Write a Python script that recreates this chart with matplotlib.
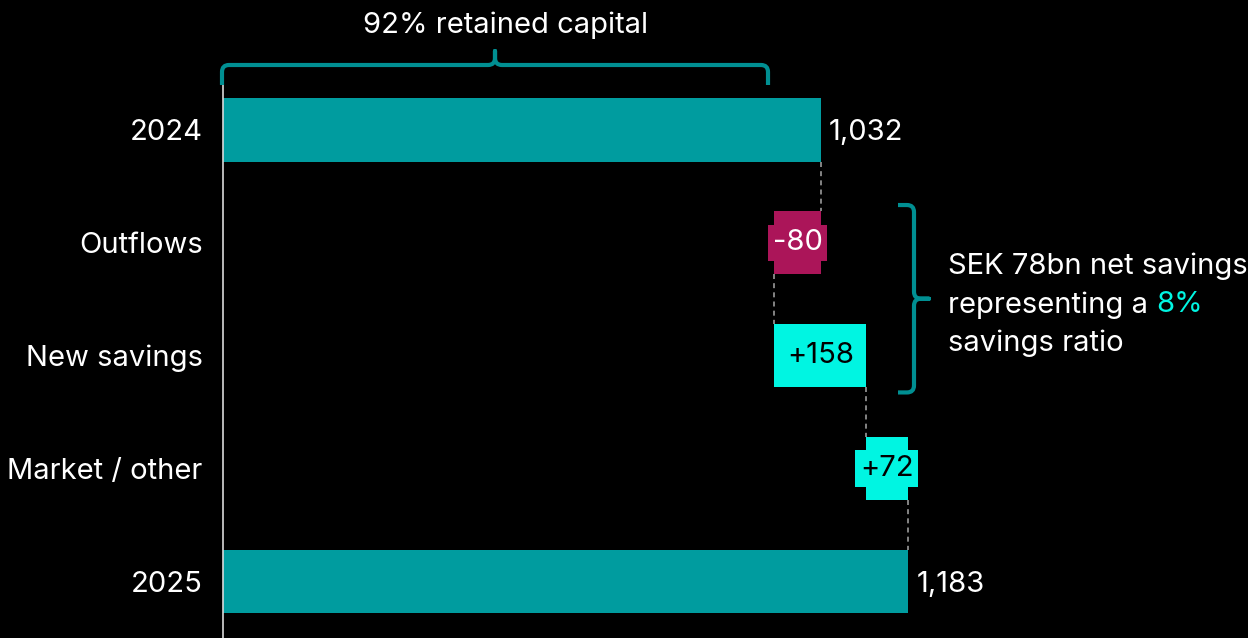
import matplotlib
matplotlib.use("Agg")
import matplotlib.pyplot as plt
from matplotlib.path import Path
from matplotlib.patches import PathPatch
from matplotlib.transforms import IdentityTransform, offset_copy

# --- data -------------------------------------------------------------
categories = ["2024", "Outflows", "New savings", "Market / other", "2025"]
start_total = 1032
changes = [-80, 158, 72]
end_total = 1183
change_labels = ["-80", "+158", "+72"]
retained_share = 0.92
net_savings_text = ["SEK 78bn net savings", "representing a ", "8%", "savings ratio"]

# --- style ------------------------------------------------------------
BG = "#000000"
TEAL = "#009c9f"
MAGENTA = "#ab1559"
CYAN = "#00f5e2"
BRACE = "#008f92"
GUIDE = "#9a9a9a"
FONT = "Inter"
FS = 21

plt.rcParams["font.family"] = [FONT, "DejaVu Sans"]

W, H, DPI = 1248, 638, 100
fig = plt.figure(figsize=(W / DPI, H / DPI), dpi=DPI, facecolor=BG)
ax = fig.add_axes([223 / W, 0.0, 1 - 223 / W, (H - 73.5) / H])
ax.set_facecolor(BG)
ax.set_xlim(0, (W - 223) / 0.5793)
ax.set_ylim(len(categories) - 0.5, -0.5)

bar_h = 0.56
ypos = list(range(len(categories)))

# totals
ax.barh(ypos[0], start_total, height=bar_h, color=TEAL, zorder=2)
ax.barh(ypos[-1], end_total, height=bar_h, color=TEAL, zorder=2)

# floating changes
running = start_total
level_ends = [start_total]
for i, (c, lab) in enumerate(zip(changes, change_labels), start=1):
    left = min(running, running + c)
    col = MAGENTA if c < 0 else CYAN
    ax.text(left + abs(c) / 2, ypos[i], lab, ha="center", va="center",
            fontsize=FS, color="white" if c < 0 else "black", zorder=4,
            bbox=dict(boxstyle="square,pad=0.16", fc=col, ec="none"))
    ax.barh(ypos[i], abs(c), left=left, height=bar_h, color=col, zorder=2)
    running += c
    level_ends.append(running)
level_ends.append(end_total)

# dashed connectors between consecutive bars
for i in range(len(categories) - 1):
    x = level_ends[i]
    ax.plot([x, x], [ypos[i] + bar_h / 2, ypos[i + 1] - bar_h / 2],
            color=GUIDE, lw=1.2, ls=(0, (3, 2.5)), zorder=1)

# value labels for totals, a few pixels right of the bar ends
off = offset_copy(ax.transData, fig=fig, x=8, y=0, units="dots")
ax.text(start_total, ypos[0], f"{start_total:,}", color="white", fontsize=FS,
        va="center_baseline", ha="left", transform=off)
ax.text(end_total, ypos[-1], f"{end_total:,}", color="white", fontsize=FS,
        va="center_baseline", ha="left", transform=off)

# axes cosmetics
ax.set_yticks(ypos)
ax.set_yticklabels(categories, fontsize=FS, color="white")
ax.tick_params(axis="y", length=0, pad=14.5)
ax.set_xticks([])
for s in ("top", "right", "bottom"):
    ax.spines[s].set_visible(False)
ax.spines["left"].set_color("#d9d9d9")
ax.spines["left"].set_linewidth(1.2)


def brace_path(a0, a1, base, tip, hook, r, horizontal):
    """Curly brace in display pixels. For horizontal braces a runs along x;
    base is the line level, hook the level of the end hooks, tip the point."""
    am = (a0 + a1) / 2
    sh = 1 if hook > base else -1
    st = 1 if tip > base else -1
    pts = [
        (a0, hook), (a0, base + sh * r), (a0, base), (a0 + r, base),
        (am - r, base), (am, base), (am, base + st * r), (am, tip),
        (am, base + st * r), (am, base), (am + r, base),
        (a1 - r, base), (a1, base), (a1, base + sh * r), (a1, hook),
    ]
    codes = [Path.MOVETO, Path.LINETO, Path.CURVE3, Path.CURVE3,
             Path.LINETO, Path.CURVE3, Path.CURVE3, Path.LINETO,
             Path.LINETO, Path.CURVE3, Path.CURVE3,
             Path.LINETO, Path.CURVE3, Path.CURVE3, Path.LINETO]
    if not horizontal:
        pts = [(b, a) for a, b in pts]
    return Path(pts, codes)


fig.canvas.draw()
to_px = ax.transData.transform

# top brace: share of the opening balance that was retained
x0, _ = to_px((0, 0))
x1, _ = to_px((retained_share * start_total, 0))
ybase = H - 65
p = brace_path(x0 - 1, x1 - 5, ybase, ybase + 14, ybase - 20, 7, True)
fig.patches.append(PathPatch(p, transform=IdentityTransform(), fill=False,
                             ec=BRACE, lw=3, capstyle="butt", joinstyle="round",
                             figure=fig, zorder=5))
fig.text(506 / W, 1 - 22 / H, "92% retained capital", ha="center",
         va="center_baseline", fontsize=FS, color="white")

# right brace: outflows + new savings
_, yt = to_px((0, ypos[1] - bar_h / 2 - 0.055))
_, yb = to_px((0, ypos[2] + bar_h / 2 + 0.045))
xb = 914
p2 = brace_path(yb, yt, xb, xb + 15, xb - 16, 7, False)
fig.patches.append(PathPatch(p2, transform=IdentityTransform(), fill=False,
                             ec=BRACE, lw=3, capstyle="butt", joinstyle="round",
                             figure=fig, zorder=5))

tx = 948 / W
fig.text(tx, 1 - 263 / H, net_savings_text[0], ha="left", va="center_baseline",
         fontsize=FS, color="white")
t2 = fig.text(tx, 1 - 302 / H, net_savings_text[1], ha="left",
              va="center_baseline", fontsize=FS, color="white")
fig.canvas.draw()
bb = t2.get_window_extent()
fig.text(bb.x1 / W, 1 - 302 / H, net_savings_text[2], ha="left",
         va="center_baseline", fontsize=FS, color=CYAN)
fig.text(tx, 1 - 340 / H, net_savings_text[3], ha="left", va="center_baseline",
         fontsize=FS, color="white")

fig.savefig("out.png", dpi=DPI, facecolor=BG)
